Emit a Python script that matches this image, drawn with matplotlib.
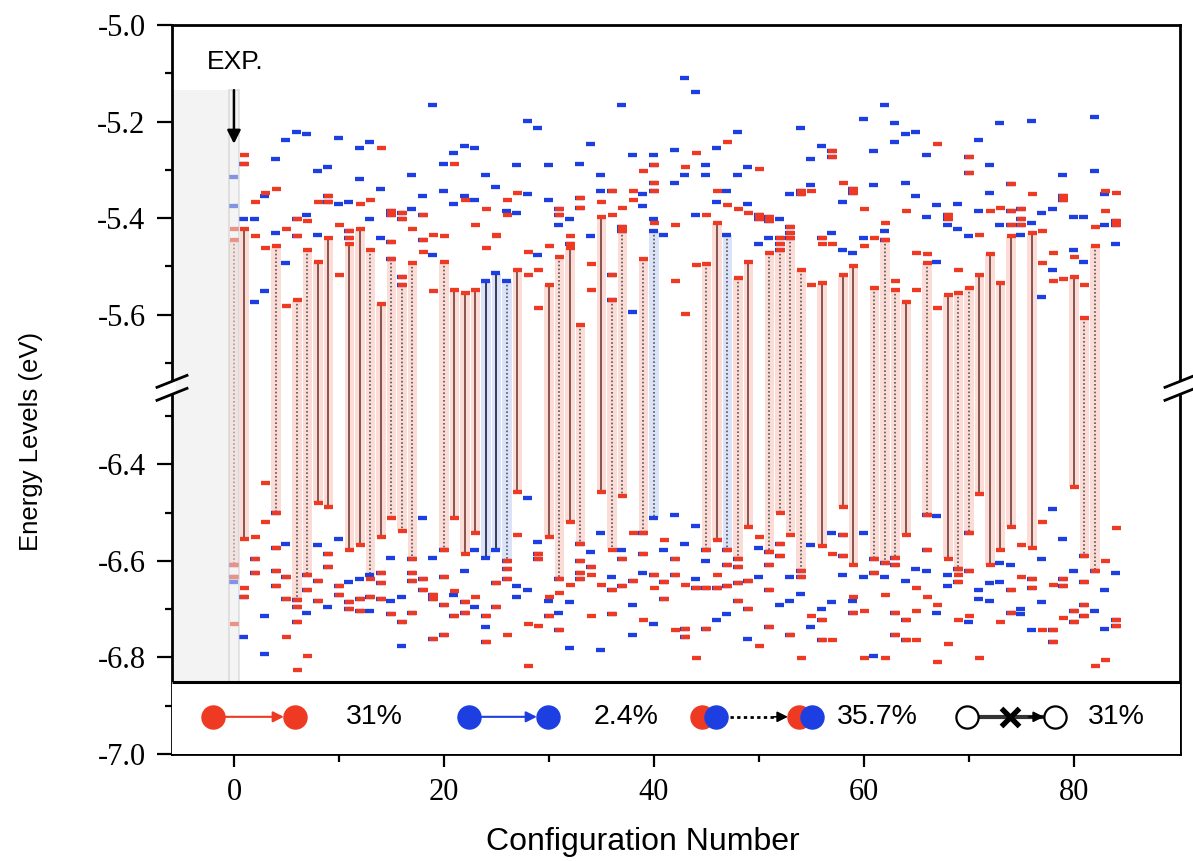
import numpy as np
import matplotlib
matplotlib.use('Agg')
import matplotlib.pyplot as plt
from matplotlib.patches import Rectangle, Polygon

plt.rcParams['font.family'] = ['Liberation Sans', 'DejaVu Sans']
plt.rcParams['axes.unicode_minus'] = False

RED = '#ee3a22'
BLUE = '#1d3fe2'
RED_SHADE = '#fcdcd6'
BLUE_SHADE = '#dbe3f9'

# energy levels (eV) per configuration, configuration 0 is the experimental one
RED_LEVELS = [
    [-5.422, -5.446, -6.609, -6.633, -6.731],
    [-5.269, -5.287, -5.422, -6.555, -6.657, -6.674],
    [-5.367, -5.437, -6.551, -6.597, -6.625],
    [-5.347, -5.462, -6.438, -6.520],
    [-5.339, -5.458, -6.500, -6.573, -6.621, -6.653],
    [-5.422, -5.582, -6.633, -6.679, -6.757],
    [-5.401, -5.437, -5.569, -6.681, -6.695, -6.727, -6.826],
    [-5.406, -5.466, -6.629, -6.660, -6.797],
    [-5.367, -5.490, -6.481, -6.642, -6.683],
    [-5.355, -5.367, -5.442, -6.489, -6.585, -6.613],
    [-5.414, -5.517, -6.653, -6.671],
    [-5.426, -5.442, -5.454, -6.578, -6.686, -6.699],
    [-5.371, -5.422, -6.568, -6.679, -6.703],
    [-5.363, -5.466, -6.638, -6.674],
    [-5.254, -5.577, -6.551, -6.625, -6.646, -6.679],
    [-5.385, -5.393, -5.450, -5.485, -6.511, -6.711],
    [-5.389, -5.401, -5.521, -5.539, -6.539, -6.727],
    [-5.422, -5.493, -6.597, -6.625, -6.642, -6.707],
    [-5.393, -5.446, -5.470, -6.638, -6.660],
    [-5.434, -5.551, -6.671, -6.679, -6.761],
    [-5.437, -5.490, -6.577, -6.633, -6.691, -6.753],
    [-5.287, -5.548, -6.511, -6.663, -6.715],
    [-5.363, -5.555, -6.585, -6.686, -6.707],
    [-5.414, -5.548, -6.543, -6.674],
    [-5.381, -5.462, -6.715, -6.768],
    [-5.434, -5.438, -6.646, -6.695],
    [-5.363, -5.393, -6.601, -6.617, -6.638, -6.753],
    [-5.347, -5.508, -6.457, -6.547],
    [-5.470, -5.517, -6.731, -6.817],
    [-5.508, -5.586, -6.585, -6.597, -6.735],
    [-5.458, -5.539, -6.551, -6.674, -6.715],
    [-5.381, -5.393, -5.481, -6.638, -6.666, -6.744],
    [-5.437, -5.454, -5.462, -6.520, -6.649],
    [-5.359, -5.379, -5.622, -6.566, -6.601, -6.625, -6.638],
    [-5.496, -5.548, -6.613, -6.629, -6.715],
    [-5.367, -5.397, -6.457, -6.649],
    [-5.343, -5.393, -5.517, -5.569, -6.577, -6.660, -6.711],
    [-5.379, -5.418, -5.426, -6.465, -6.597, -6.653],
    [-5.343, -5.363, -6.543, -6.642],
    [-5.303, -5.485, -6.543, -6.585, -6.723],
    [-5.291, -5.327, -5.343, -5.410, -6.629, -6.657],
    [-6.557, -6.644, -6.679],
    [-5.414, -5.531, -6.597, -6.629, -6.744],
    [-5.295, -5.598, -6.649, -6.741, -6.757],
    [-5.265, -5.498, -6.657, -6.801],
    [-5.393, -5.496, -6.577, -6.657, -6.741],
    [-5.343, -5.410, -6.557, -6.629, -6.657],
    [-5.242, -5.373, -6.577, -6.609, -6.653],
    [-5.381, -5.525, -6.597, -6.613, -6.645, -6.683],
    [-5.389, -5.490, -6.530, -6.642, -6.699],
    [-5.299, -5.393, -5.401, -6.551, -6.777],
    [-5.397, -5.406, -5.473, -6.581, -6.609, -6.660, -6.737],
    [-5.442, -5.454, -5.466, -6.500, -6.566, -6.589],
    [-5.418, -5.430, -5.442, -6.547, -6.753],
    [-5.343, -5.351, -5.508, -6.621, -6.633, -6.801],
    [-5.343, -5.539, -6.715],
    [-5.442, -5.454, -5.535, -6.569, -6.723, -6.764],
    [-5.262, -5.273, -5.454, -6.585, -6.764],
    [-5.327, -5.517, -6.489, -6.547, -6.589],
    [-5.339, -5.347, -5.500, -6.609, -6.674, -6.707],
    [-5.381, -5.458, -6.703, -6.801],
    [-5.442, -5.544, -6.597, -6.625],
    [-5.410, -5.446, -6.605, -6.671, -6.801],
    [-5.531, -5.548, -6.593, -6.609, -6.707, -6.753],
    [-5.385, -5.573, -6.547, -6.723, -6.764],
    [-5.473, -5.548, -6.657, -6.703, -6.764],
    [-5.475, -5.493, -6.504, -6.577, -6.674],
    [-5.246, -5.586, -6.691, -6.809],
    [-5.393, -5.401, -5.559, -6.597, -6.772],
    [-5.508, -5.555, -6.617, -6.629, -6.644, -6.723],
    [-5.273, -5.306, -5.544, -6.543, -6.621, -6.715],
    [-5.434, -5.517, -6.461, -6.801],
    [-5.385, -5.475, -6.609],
    [-5.379, -5.535, -6.577, -6.727],
    [-5.330, -5.385, -5.414, -5.437, -6.530, -6.660, -6.707],
    [-5.381, -5.401, -5.414, -6.568, -6.633],
    [-5.351, -5.430, -6.573, -6.638, -6.657],
    [-5.426, -5.493, -6.520, -6.744],
    [-5.473, -5.531, -6.649, -6.744, -6.768],
    [-5.355, -5.363, -5.527, -6.638, -6.653, -6.719],
    [-5.481, -5.521, -6.446, -6.703, -6.727],
    [-5.539, -5.606, -6.589, -6.644, -6.691, -6.715],
    [-5.418, -5.458, -6.621, -6.817],
    [-5.343, -5.385, -6.601, -6.805],
    [-5.347, -5.406, -5.414, -6.532, -6.723, -6.735],
]

BLUE_LEVELS = [
    [-5.315, -5.375, -6.609, -6.633, -6.644],
    [-5.287, -5.401, -6.674, -6.757],
    [-5.401, -5.573, -6.597, -6.625],
    [-5.355, -5.551, -6.715, -6.793],
    [-5.277, -5.430, -6.500, -6.573, -6.621, -6.653],
    [-5.238, -5.493, -6.564, -6.633, -6.679],
    [-5.222, -5.401, -5.437, -6.681, -6.695, -6.727],
    [-5.226, -5.393, -6.629, -6.660, -6.707],
    [-5.303, -5.434, -6.568, -6.642, -6.683],
    [-5.294, -5.355, -5.367, -6.585, -6.613, -6.695],
    [-5.235, -5.371, -6.555, -6.653, -6.671],
    [-5.367, -5.426, -5.442, -6.644, -6.686, -6.699],
    [-5.254, -5.319, -6.638, -6.679, -6.703],
    [-5.243, -5.401, -6.629, -6.674, -6.703],
    [-5.339, -5.442, -6.625, -6.646, -6.679],
    [-5.385, -5.393, -5.450, -5.485, -6.593, -6.683, -6.711],
    [-5.389, -5.401, -5.521, -5.539, -6.674, -6.727, -6.777],
    [-5.310, -5.381, -6.597, -6.625, -6.642, -6.707],
    [-5.355, -5.393, -5.446, -6.511, -6.638, -6.660],
    [-5.165, -5.477, -6.593, -6.671, -6.679, -6.761],
    [-5.287, -5.343, -6.577, -6.633, -6.691, -6.753],
    [-5.265, -5.371, -6.671, -6.715],
    [-5.250, -5.355, -6.621, -6.686, -6.707],
    [-5.254, -5.363, -6.577, -6.695],
    [-5.311, -5.531, -6.593, -6.715, -6.737, -6.768],
    [-5.335, -5.513, -6.577, -6.646, -6.695],
    [-5.385, -5.531, -6.601, -6.617, -6.638],
    [-5.291, -5.389, -6.653, -6.674],
    [-5.199, -5.351, -6.470, -6.660],
    [-5.214, -5.477, -6.560, -6.585, -6.597],
    [-5.290, -5.363, -6.683, -6.715],
    [-5.381, -5.393, -5.414, -6.638, -6.707, -6.744],
    [-5.401, -5.454, -6.686, -6.780],
    [-5.287, -5.359, -5.379, -6.566, -6.601, -6.625, -6.638],
    [-5.246, -5.437, -6.581, -6.613],
    [-5.311, -5.343, -6.543, -6.784],
    [-5.343, -5.517, -5.569, -6.633, -6.660, -6.711],
    [-5.165, -5.418, -5.426, -6.578, -6.597, -6.653],
    [-5.269, -5.594, -6.642, -6.691, -6.753],
    [-5.351, -5.375, -6.543, -6.585, -6.625],
    [-5.269, -5.291, -5.327, -5.343, -5.401, -5.426, -6.511, -6.629, -6.731],
    [-5.434, -6.577, -6.644, -6.679],
    [-5.259, -5.327, -6.504, -6.597, -6.629],
    [-5.109, -5.310, -6.564, -6.741, -6.757],
    [-5.139, -5.393, -6.528, -6.638, -6.657],
    [-5.291, -5.311, -6.577, -6.601, -6.657, -6.741],
    [-5.254, -5.367, -6.657, -6.723],
    [-5.343, -5.434, -6.577, -6.609, -6.653, -6.711],
    [-5.222, -5.311, -6.597, -6.613, -6.645, -6.683],
    [-5.295, -5.371, -6.642, -6.699, -6.761],
    [-5.393, -5.401, -5.454, -6.573, -6.633],
    [-5.397, -5.406, -5.442, -6.581, -6.609, -6.660, -6.737],
    [-5.401, -5.442, -5.454, -5.466, -6.566, -6.589, -6.691],
    [-5.351, -5.418, -5.430, -5.442, -6.633, -6.683, -6.753],
    [-5.214, -5.343, -5.351, -6.621, -6.633, -6.668],
    [-5.277, -5.331, -6.568, -6.737],
    [-5.250, -5.442, -6.699, -6.723, -6.764],
    [-5.262, -5.273, -5.430, -6.543, -6.686],
    [-5.367, -5.466, -6.547, -6.589, -6.629],
    [-5.339, -5.347, -5.473, -6.683, -6.707],
    [-5.194, -5.442, -6.543, -6.633],
    [-5.261, -5.331, -6.597, -6.625, -6.797],
    [-5.165, -5.426, -5.446, -6.605, -6.633],
    [-5.203, -5.242, -6.593, -6.609, -6.707, -6.753],
    [-5.226, -5.327, -6.642, -6.723, -6.764],
    [-5.222, -5.355, -6.617],
    [-5.269, -5.397, -6.504, -6.577, -6.621],
    [-5.373, -5.490, -6.508, -6.707],
    [-5.393, -5.401, -5.414, -6.629, -6.653],
    [-5.371, -5.422, -6.617, -6.644],
    [-5.273, -5.306, -5.437, -6.543, -6.621, -6.727],
    [-5.239, -5.385, -6.660, -6.679],
    [-5.291, -5.347, -6.646, -6.683],
    [-5.203, -5.414, -6.605, -6.644],
    [-5.330, -5.385, -5.414, -6.609, -6.660, -6.707],
    [-5.381, -5.401, -5.414, -5.434, -6.699, -6.711],
    [-5.199, -5.410, -6.638, -6.657, -6.744],
    [-5.389, -5.564, -6.597, -6.686],
    [-5.381, -5.508, -6.493, -6.744, -6.768],
    [-5.311, -5.355, -5.363, -6.555, -6.638, -6.653],
    [-5.397, -5.466, -6.621, -6.703, -6.727],
    [-5.397, -5.490, -6.589, -6.644, -6.691, -6.715],
    [-5.190, -5.303, -6.621, -6.703],
    [-5.351, -5.414, -6.660, -6.741],
    [-5.406, -5.414, -5.454, -6.625, -6.723, -6.735],
]

# transitions: R red->red, B blue->blue, M mixed (pink), MB mixed (blue shade)
TR_CONFIG = [0, 1, 4, 6, 7, 8, 9, 11, 12, 13, 14, 15, 16, 17, 20, 21, 22, 23,
             24, 25, 26, 27, 30, 31, 32, 33, 35, 36, 37, 39, 40, 45, 46, 47,
             48, 49, 51, 52, 53, 54, 56, 58, 59, 61, 62, 63, 64, 66, 68, 69,
             70, 71, 72, 73, 74, 76, 80, 81, 82]
TR_TOP = [-5.446, -5.422, -5.458, -5.569, -5.466, -5.490, -5.442, -5.454,
          -5.422, -5.466, -5.577, -5.485, -5.539, -5.493, -5.490, -5.548,
          -5.555, -5.548, -5.531, -5.513, -5.531, -5.508, -5.539, -5.481,
          -5.462, -5.622, -5.397, -5.569, -5.426, -5.485, -5.426, -5.496,
          -5.410, -5.434, -5.525, -5.490, -5.473, -5.466, -5.442, -5.508,
          -5.535, -5.517, -5.500, -5.544, -5.446, -5.548, -5.573, -5.493,
          -5.559, -5.555, -5.544, -5.517, -5.475, -5.535, -5.437, -5.430,
          -5.521, -5.606, -5.458]
TR_BOTTOM = [-6.609, -6.555, -6.500, -6.681, -6.629, -6.481, -6.489, -6.578,
             -6.568, -6.638, -6.551, -6.511, -6.539, -6.597, -6.577, -6.511,
             -6.585, -6.543, -6.593, -6.577, -6.601, -6.457, -6.551, -6.638,
             -6.520, -6.566, -6.457, -6.577, -6.465, -6.543, -6.511, -6.577,
             -6.557, -6.577, -6.597, -6.530, -6.581, -6.500, -6.547, -6.621,
             -6.569, -6.489, -6.609, -6.597, -6.605, -6.593, -6.547, -6.504,
             -6.597, -6.629, -6.543, -6.461, -6.609, -6.577, -6.530, -6.573,
             -6.446, -6.589, -6.621]
TR_KIND = ['M', 'R', 'M', 'M', 'M', 'R', 'R', 'R', 'R', 'M', 'R', 'M', 'M',
           'M', 'M', 'R', 'R', 'R', 'B', 'B', 'MB', 'R', 'R', 'M', 'R', 'M',
           'R', 'M', 'M', 'M', 'MB', 'M', 'R', 'MB', 'M', 'R', 'M', 'M', 'M',
           'M', 'R', 'R', 'R', 'M', 'M', 'M', 'R', 'M', 'R', 'M', 'M', 'R',
           'R', 'R', 'R', 'R', 'R', 'M', 'M']

LEGEND_SHARES = ['31%', '2.4%', '35.7%', '31%']

X_MAJOR = [0, 20, 40, 60, 80]
X_MINOR = [10, 30, 50, 70]
Y_MAJOR = [-5.0, -5.2, -5.4, -5.6, -6.4, -6.6, -6.8, -7.0]
Y_MINOR = [-5.1, -5.3, -5.5, -5.7, -6.3, -6.5, -6.7, -6.9]

# broken energy axis: the window between these two energies is squeezed out
UPPER_END = -5.7516
LOWER_START = -6.242
SQUEEZE = 1e-3
GAP = (UPPER_END - LOWER_START) * (1 - SQUEEZE)


def fwd(y):
    y = np.asarray(y, dtype=float)
    return np.where(y >= UPPER_END, y,
                    np.where(y <= LOWER_START, y + GAP,
                             UPPER_END + (y - UPPER_END) * SQUEEZE))


def inv(t):
    t = np.asarray(t, dtype=float)
    t_low = UPPER_END - (UPPER_END - LOWER_START) * SQUEEZE
    return np.where(t >= UPPER_END, t,
                    np.where(t <= t_low, t - GAP,
                             UPPER_END + (t - UPPER_END) / SQUEEZE))


fig = plt.figure(figsize=(11.93, 8.61), dpi=100)
ax = fig.add_axes([0.14417, 0.12427, 0.84493, 0.84669])
ax.set_yscale('function', functions=(fwd, inv))
ax.set_xlim(-5.9, 90.1)
ax.set_ylim(-7.0, -5.0)


def axes_frac(y):
    lo, hi = fwd(-7.0), fwd(-5.0)
    return float((fwd(y) - lo) / (hi - lo))


legend_top = axes_frac(-6.851)
gray_top = axes_frac(-5.135)

# shaded background behind the experimental column
ax.axvspan(-5.9, -0.45, ymin=legend_top, ymax=gray_top, facecolor='#f3f3f3',
           lw=0, zorder=0)

# transitions between upper and lower levels
for c, top, bot, kind in zip(TR_CONFIG, TR_TOP, TR_BOTTOM, TR_KIND):
    shade = BLUE_SHADE if kind in ('B', 'MB') else RED_SHADE
    ax.bar(c, top - bot, bottom=bot, width=0.9, color=shade, lw=0, zorder=1)
    if kind == 'R':
        ax.plot([c, c], [top, bot], color='#7d4a45', lw=1.3, zorder=2)
    elif kind == 'B':
        ax.plot([c, c], [top, bot], color='#2b2d4a', lw=1.3, zorder=2)
    else:
        ax.plot([c, c], [top, bot], color='#555555', lw=1.2,
                ls=(0, (1, 1.3)), zorder=2)

# energy level dashes
bx, by, rx, ry = [], [], [], []
for i, levels in enumerate(BLUE_LEVELS):
    bx += [i] * len(levels)
    by += levels
for i, levels in enumerate(RED_LEVELS):
    rx += [i] * len(levels)
    ry += levels
bx, rx = np.array(bx, float), np.array(rx, float)
ax.hlines(by, bx - 0.48, bx + 0.38, colors=BLUE, lw=3.1, zorder=3)
ax.hlines(ry, rx - 0.38, rx + 0.48, colors=RED, lw=3.1, zorder=4)

# experimental column strip
ax.axvspan(-0.45, 0.45, ymin=legend_top, ymax=gray_top, facecolor='#eaeaea',
           alpha=0.5, edgecolor='#c4c4c4', lw=1.2, zorder=5)
ax.annotate('', xy=(0, -5.246), xytext=(0, -5.135),
            arrowprops=dict(arrowstyle='-|>', color='black', lw=1.8,
                            mutation_scale=20, shrinkA=0, shrinkB=0),
            zorder=6)
ax.text(0.1, -5.077, 'EXP.', ha='center', va='center', fontsize=19)

# legend strip along the bottom
ax.add_patch(Rectangle((0, 0), 1, legend_top, transform=ax.transAxes,
                       facecolor='white', edgecolor='none', zorder=6))
ax.plot([0, 1], [legend_top, legend_top], transform=ax.transAxes,
        color='black', lw=2.2, zorder=7, solid_capstyle='butt')

leg_y = 0.051
ms = 16
r = 0.0110


def dot(x, face, edge=None):
    ax.plot([x], [leg_y], 'o', ms=ms, mfc=face, mec=edge or face, mew=1.6,
            transform=ax.transAxes, clip_on=False, zorder=8)


def arrow(x1, x2, color, lw=1.5, ls='-'):
    ax.annotate('', xy=(x2, leg_y), xytext=(x1, leg_y),
                xycoords='axes fraction', textcoords='axes fraction',
                arrowprops=dict(arrowstyle='-|>', color=color, lw=lw,
                                ls=ls, mutation_scale=16,
                                shrinkA=0, shrinkB=0), zorder=8)


dot(0.0407, RED)
dot(0.1220, RED)
arrow(0.0407 + r, 0.1220 - r, RED)
dot(0.2946, BLUE)
dot(0.3730, BLUE)
arrow(0.2946 + r, 0.3730 - r, BLUE)
dot(0.5260, RED)
dot(0.5400, BLUE)
dot(0.6220, RED)
dot(0.6350, BLUE)
ax.plot([0.5400 + r + 0.003, 0.5990], [leg_y, leg_y], transform=ax.transAxes,
        color='black', lw=2, ls=(0, (1.2, 1.2)), zorder=8)
arrow(0.5970, 0.6220 - r, 'black', lw=1.2)
ax.plot([0.7890 + r, 0.8650], [leg_y, leg_y], transform=ax.transAxes,
        color='#333333', lw=3, zorder=8)
arrow(0.8500, 0.8760 - r, 'black', lw=1.2)
ax.plot([0.8310], [leg_y], 'x', ms=13, mew=3.8, color='black',
        transform=ax.transAxes, zorder=9)
dot(0.7890, 'white', 'black')
dot(0.8760, 'white', 'black')
for x, share in zip([0.2009, 0.4500, 0.7000, 0.9370], LEGEND_SHARES):
    ax.text(x, leg_y, share, transform=ax.transAxes, ha='center',
            va='center', fontsize=20.5, zorder=8)

# ticks and frame
ax.set_xticks(X_MAJOR, [str(t) for t in X_MAJOR],
              fontfamily='Liberation Serif', fontsize=22)
ax.set_xticks(X_MINOR, minor=True)
ax.set_yticks(Y_MAJOR, [f'{t:.1f}' for t in Y_MAJOR],
              fontfamily='Liberation Serif', fontsize=22)
ax.set_yticks(Y_MINOR, minor=True)
ax.tick_params(axis='x', which='major', length=9.5, width=1.6, pad=8)
ax.tick_params(axis='x', which='minor', length=6, width=1.6)
ax.tick_params(axis='y', which='major', length=11, width=1.6, pad=8)
ax.tick_params(axis='y', which='minor', length=5, width=1.6)
for s in ax.spines.values():
    s.set_linewidth(2)

ax.set_xlabel('Configuration Number', fontsize=23)
ax.xaxis.set_label_coords(0.467, -0.100)
ax.set_ylabel('Energy Levels (eV)', fontsize=18.5)
ax.yaxis.set_label_coords(-0.128, 0.429)

# break marks on both vertical spines
yb = axes_frac(UPPER_END)
dxh, dyh, sep = 0.0149, 0.0082, 0.0089
for x0 in (0, 1):
    ax.add_patch(Polygon([(x0 - 0.004, yb - sep - 0.002),
                          (x0 + 0.004, yb - sep + 0.002),
                          (x0 + 0.004, yb + sep + 0.002),
                          (x0 - 0.004, yb + sep - 0.002)],
                         closed=True, transform=ax.transAxes,
                         facecolor='white', edgecolor='none',
                         clip_on=False, zorder=10))
    for s in (-1, 1):
        ax.plot([x0 - dxh, x0 + dxh],
                [yb + s * sep - dyh, yb + s * sep + dyh],
                transform=ax.transAxes, color='black', lw=2,
                clip_on=False, zorder=11)

fig.savefig('out.png', dpi=100)
